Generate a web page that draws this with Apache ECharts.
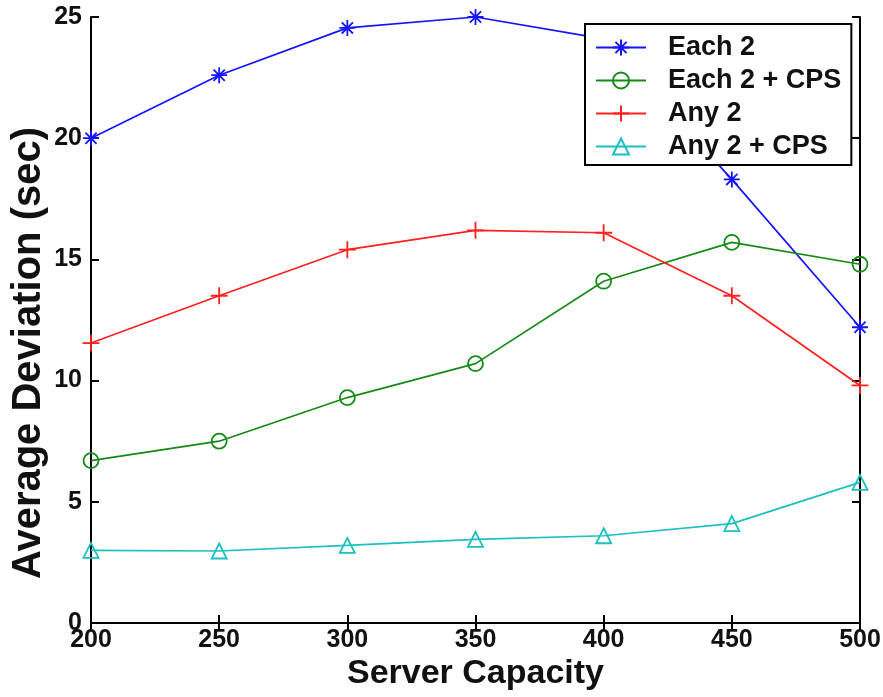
<!DOCTYPE html>
<html>
<head>
<meta charset="utf-8">
<script src="https://cdn.jsdelivr.net/npm/echarts@6/dist/echarts.min.js"></script>
<style>
  html, body { margin: 0; padding: 0; background: #fff; }
  #chart { width: 883px; height: 697px; }
</style>
</head>
<body>
<div id="chart"></div>
<script>
// Server capacity on the x axis
const capacity = [200, 250, 300, 350, 400, 450, 500];

// Average deviation (sec) per scheme
const each2      = [20.0, 22.6, 24.55, 25.0, 24.1, 18.3, 12.2];
const each2Cps   = [6.7, 7.5, 9.3, 10.7, 14.1, 15.7, 14.8];
const any2       = [11.55, 13.5, 15.4, 16.2, 16.1, 13.5, 9.8];
const any2Cps    = [3.0, 2.97, 3.2, 3.45, 3.6, 4.1, 5.8];

const seriesNames = ['Each 2', 'Each 2 + CPS', 'Any 2', 'Any 2 + CPS'];

const FONT = '"Liberation Sans", Arial, sans-serif';

// Open-stroke marker shapes
const STAR = 'path://M5 0 L5 10 M0 5 L10 5 M1.5 1.5 L8.5 8.5 M8.5 1.5 L1.5 8.5';
const PLUS = 'path://M5 0 L5 10 M0 5 L10 5';

function makeSeries(name, values, color, symbol, size) {
  return {
    name: name,
    type: 'line',
    data: capacity.map((x, i) => [x, values[i]]),
    symbol: symbol,
    symbolSize: size,
    color: color,
    lineStyle: { color: color, width: 1.7 },
    itemStyle: { color: 'rgba(0,0,0,0)', borderColor: color, borderWidth: 1.8 },
    emphasis: { disabled: true },
    z: 3
  };
}

const chart = echarts.init(document.getElementById('chart'), null, { renderer: 'canvas' });

const axisLine = { show: true, lineStyle: { color: '#000', width: 2 } };
const tickIn = { show: true, inside: true, length: 8, lineStyle: { color: '#000', width: 2 } };
const tickText = { fontFamily: FONT, fontWeight: 'bold', fontSize: 25, color: '#111' };

chart.setOption({
  animation: false,
  backgroundColor: '#fff',
  grid: { left: 91, right: 23, top: 17, bottom: 74, containLabel: false, outerBoundsMode: 'none' },
  legend: {
    orient: 'vertical',
    left: 585,
    top: 24,
    itemWidth: 50,
    itemHeight: 20,
    itemGap: 6,
    padding: [10, 10, 5, 10],
    backgroundColor: '#fff',
    borderColor: '#000',
    borderWidth: 2,
    borderRadius: 0,
    textStyle: { fontFamily: FONT, fontWeight: 'bold', fontSize: 27, color: '#111', padding: [0, 0, 0, 17] },
    data: seriesNames
  },
  xAxis: [
    {
      type: 'value',
      min: 200, max: 500, interval: 50,
      name: 'Server Capacity',
      nameLocation: 'middle',
      nameGap: 34,
      nameMoveOverlap: false,
      nameTextStyle: { fontFamily: FONT, fontWeight: 'bold', fontSize: 34, color: '#111' },
      axisLine: axisLine,
      axisTick: tickIn,
      splitLine: { show: false },
      axisLabel: Object.assign({ margin: 5 }, tickText)
    },
    {
      type: 'value',
      position: 'top',
      min: 200, max: 500, interval: 50,
      axisLine: axisLine,
      axisTick: tickIn,
      splitLine: { show: false },
      axisLabel: { show: false }
    }
  ],
  yAxis: [
    {
      type: 'value',
      min: 0, max: 25, interval: 5,
      name: 'Average Deviation (sec)',
      nameLocation: 'middle',
      nameGap: 42,
      nameMoveOverlap: false,
      nameTextStyle: { fontFamily: FONT, fontWeight: 'bold', fontSize: 40, color: '#111', padding: [0, 66, 0, 0] },
      axisLine: axisLine,
      axisTick: tickIn,
      splitLine: { show: false },
      axisLabel: Object.assign({ margin: 9 }, tickText)
    },
    {
      type: 'value',
      position: 'right',
      min: 0, max: 25, interval: 5,
      axisLine: axisLine,
      axisTick: tickIn,
      splitLine: { show: false },
      axisLabel: { show: false }
    }
  ],
  series: [
    makeSeries(seriesNames[0], each2, '#1414ff', STAR, 16),
    makeSeries(seriesNames[1], each2Cps, '#168a16', 'circle', 15),
    makeSeries(seriesNames[2], any2, '#ff2020', PLUS, 17),
    makeSeries(seriesNames[3], any2Cps, '#1cc0c0', 'triangle', 15)
  ]
});
</script>
</body>
</html>
